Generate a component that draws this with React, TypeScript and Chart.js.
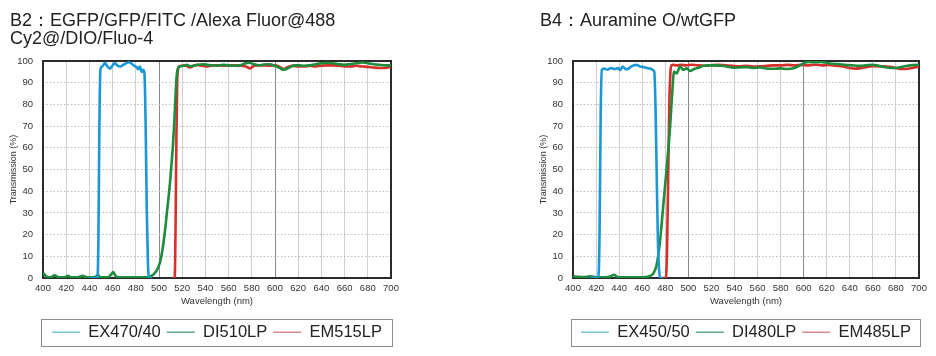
import React, { useEffect, useRef } from 'react';
import { Chart, registerables } from 'chart.js';

Chart.register(...registerables);

// ---------- axis ranges ----------
const X_MIN = 400;
const X_MAX = 700;
const X_STEP = 20;
const Y_MIN = 0;
const Y_MAX = 100;
const Y_STEP = 10;
const X_MAJOR = [500, 600];

// ---------- B2 data ----------
const B2_TITLE = ['B2：EGFP/GFP/FITC /Alexa Fluor@488', 'Cy2@/DIO/Fluo-4'];
const B2_LABELS = ['EX470/40', 'DI510LP', 'EM515LP'];

const B2_EX_WL = [440, 447, 447.8, 448.6, 449.5, 451, 453.4, 455.5, 457.8, 460, 462, 464, 466.4, 469.8, 474, 477, 479, 481, 482, 483.6, 485, 486.5, 487.5, 488.5, 489.5, 490.5, 491.2, 494];
const B2_EX_T = [0, 0, 20, 70, 96, 97.5, 99, 97.5, 96.5, 98, 99, 98, 97.5, 98.4, 99.4, 98.5, 97.7, 97, 96.2, 97.5, 95, 96, 94, 70, 30, 6, 0, 0];

const B2_DI_WL = [400, 402, 404.5, 407, 410, 413, 416, 419, 421.5, 424, 428, 431, 434, 437, 440, 444, 446, 447.5, 449, 452, 456, 458.5, 460.5, 462.5, 465, 470, 478, 486, 490, 493, 496, 499, 501, 503, 505, 507, 509.5, 511, 512, 513, 514, 515.2, 516.6, 518, 521, 524, 527, 530, 534, 538, 542, 546, 550, 555, 560, 565, 570, 574, 578, 582, 586, 590, 595, 600, 604, 607, 610, 613, 617, 621, 625, 630, 635, 640, 645, 650, 655, 660, 665, 670, 675, 680, 685, 690, 695, 700];
const B2_DI_T = [2.5, 1.2, 0.3, 0.4, 1.2, 0.4, 0.3, 0.4, 1, 0.3, 0.3, 0.4, 1, 0.4, 0.3, 0.3, 0.8, 1.5, 0.4, 0.3, 0.3, 1.5, 2.7, 1, 0.3, 0.3, 0.3, 0.3, 0.3, 0.8, 2, 4.5, 7.5, 13, 21, 31, 44, 54, 61, 70, 81, 93, 97, 97.5, 97.8, 98.2, 97.6, 97.8, 98.3, 98.5, 98.2, 98, 97.8, 98.2, 98, 97.8, 98, 98.8, 99.2, 98.5, 98, 98.4, 98.5, 97.8, 96.8, 96, 96.3, 97.2, 98, 98, 97.8, 98, 98.5, 99, 99.2, 99, 98.5, 98.2, 98.6, 99, 99.3, 99, 98.5, 98.2, 98, 98];

const B2_EM_WL = [512, 513.5, 514.3, 515, 515.7, 516.4, 517.5, 520, 523, 526.5, 530, 533, 537, 541, 546, 551, 556, 561, 566, 571, 575, 578.5, 582, 586, 590, 595, 600, 604, 607.5, 611, 615, 620, 625, 630, 635, 640, 645, 650, 655, 660, 665, 670, 675, 680, 685, 690, 695, 700];
const B2_EM_T = [0, 0, 25, 65, 90, 96, 97.5, 97.8, 98, 97, 97.8, 98.2, 97.8, 97.5, 98, 98, 97.8, 98, 98, 97.8, 97.5, 96.6, 97.8, 98, 98, 97.8, 98, 97.3, 96.3, 97.2, 97.8, 97.5, 97.5, 97.8, 97.5, 97.8, 98, 98, 97.8, 97.5, 97.5, 97.8, 97.5, 97.3, 97, 96.8, 96.8, 97.3];

// ---------- B4 data ----------
const B4_TITLE = ['B4：Auramine O/wtGFP'];
const B4_LABELS = ['EX450/50', 'DI480LP', 'EM485LP'];

const B4_EX_WL = [415, 422, 423, 424, 425, 427, 430, 433, 436, 439, 441, 443, 445, 447, 450, 453, 455, 458, 461, 464, 467, 469, 470.5, 471.5, 472.5, 473.5, 474.5, 475.5, 478];
const B4_EX_T = [0, 0, 20, 75, 96, 96.5, 96, 96.8, 96.3, 96.7, 95.8, 97.5, 96.5, 96.2, 97.3, 98, 98.2, 97.5, 97.2, 96.8, 96.5, 96, 95, 80, 50, 20, 5, 0, 0];

const B4_DI_WL = [400, 404, 408, 412, 415, 418, 422, 426, 430, 433, 435.5, 438, 442, 450, 458, 463, 466, 469.6, 472.5, 475.4, 478.3, 481.2, 484.1, 486.1, 487.6, 489.9, 492.8, 495.7, 498.6, 501.5, 505, 509, 513, 518, 523, 528, 533, 539, 544, 550, 556, 562, 568, 574, 580, 586, 592, 597, 601, 605, 610, 615, 620, 625, 630, 636, 642, 648, 654, 660, 665, 670, 675, 680, 685, 690, 695, 700];
const B4_DI_T = [0.8, 0.6, 0.4, 0.5, 0.8, 0.5, 0.3, 0.3, 0.4, 0.8, 1.5, 0.6, 0.3, 0.3, 0.3, 0.4, 0.8, 2.1, 6, 16.7, 33.6, 50.5, 69, 86, 95, 94.3, 97.4, 95.9, 96.6, 95.4, 96.3, 96.9, 97.8, 98, 98, 97.8, 97.5, 96.9, 97, 97.2, 96.8, 97, 96.5, 96.4, 96.6, 96.3, 96.8, 98, 99.3, 99.6, 99.4, 99.6, 99.2, 98.7, 98.6, 98.2, 98, 97.8, 98, 98.3, 97.8, 97.2, 96.8, 96.8, 97.3, 97.8, 98.1, 98.3];

const B4_EM_WL = [477, 480.5, 481.5, 482.5, 483.5, 484.5, 485.5, 487, 490, 494, 498, 503, 508, 514, 520, 526, 532, 538, 544, 550, 556, 562, 568, 574, 580, 586, 592, 598, 604, 610, 616, 622, 628, 634, 640, 645, 650, 655, 660, 665, 670, 675, 680, 685, 690, 695, 700];
const B4_EM_T = [0, 0, 12, 45, 80, 95, 98, 98.2, 98, 98.2, 98, 98.3, 98, 97.8, 98, 98.2, 98, 97.8, 97.6, 97.8, 97.5, 97.6, 97.8, 98, 98, 98.2, 98, 98.2, 98, 98.3, 98, 98.2, 97.8, 97.5, 96.8, 96.5, 96.8, 97.3, 97.6, 97.5, 97.6, 97.3, 96.8, 96.3, 96.4, 96.9, 97.5];

// ---------- styles ----------
const FONT = '"Liberation Sans", Arial, Helvetica, sans-serif';
const LINE_COLORS = ['#1b97d6', '#1d8d3d', '#d7302b'];
const LEGEND_COLORS = ['#7fc4de', '#5ea68b', '#d68c8c'];

const toPoints = (wl: number[], t: number[]) => wl.map((x, i) => ({ x, y: t[i] }));

const framePlugin = {
  id: 'frame',
  beforeDatasetsDraw(chart: any) {
    const { ctx, chartArea: a } = chart;
    ctx.save();
    ctx.strokeStyle = '#2b2b2b';
    ctx.lineWidth = 2;
    ctx.strokeRect(a.left, a.top, a.right - a.left, a.bottom - a.top);
    ctx.restore();
  },
};

const legendBoxPlugin = {
  id: 'legendBox',
  afterDraw(chart: any) {
    const lg = chart.legend;
    if (!lg) return;
    const { ctx, chartArea: a } = chart;
    ctx.save();
    ctx.strokeStyle = '#8e8e8e';
    ctx.lineWidth = 1;
    ctx.strokeRect(Math.round(a.left) - 1.5, Math.round(lg.top) + 1.5, a.right - a.left + 3, 27);
    ctx.restore();
  },
};

type PanelProps = {
  left: number;
  padLeft: number;
  padRight: number;
  labels: string[];
  series: { wl: number[]; t: number[] }[];
};

function Panel({ left, padLeft, padRight, labels, series }: PanelProps) {
  const ref = useRef<HTMLCanvasElement>(null);
  useEffect(() => {
    const chart = new Chart(ref.current as HTMLCanvasElement, {
      type: 'line',
      data: {
        datasets: series.map((s, i) => ({
          label: labels[i],
          data: toPoints(s.wl, s.t),
          borderColor: LINE_COLORS[i],
          backgroundColor: LINE_COLORS[i],
          borderWidth: 2.6,
          pointRadius: 0,
          cubicInterpolationMode: 'monotone' as const,
          fill: false,
        })),
      },
      options: {
        animation: false,
        responsive: false,
        events: [],
        layout: { padding: { left: padLeft, right: padRight, top: 61, bottom: 5.5 } },
        scales: {
          x: {
            type: 'linear',
            min: X_MIN,
            max: X_MAX,
            ticks: {
              stepSize: X_STEP,
              autoSkip: false,
              maxRotation: 0,
              padding: 5,
              color: '#333',
              font: { family: FONT, size: 9.5 },
            },
            grid: {
              drawTicks: false,
              lineWidth: 1,
              color: (c: any) => (X_MAJOR.includes(c.tick?.value) ? '#8a8a8a' : '#cfcfcf'),
            },
            border: { display: false },
            title: {
              display: true,
              text: 'Wavelength (nm)',
              color: '#333',
              font: { family: FONT, size: 9.5 },
              padding: { top: 0, bottom: 11.3 },
            },
            afterFit: (s: any) => {
              s.height = 40;
            },
          },
          y: {
            min: Y_MIN,
            max: Y_MAX,
            ticks: {
              stepSize: Y_STEP,
              padding: 10,
              color: '#333',
              font: { family: FONT, size: 9.5 },
            },
            grid: { drawTicks: false, lineWidth: 1, color: '#bdbdbd' },
            border: { display: false, dash: [1.5, 2] },
            title: {
              display: true,
              text: 'Transmission (%)',
              color: '#333',
              font: { family: FONT, size: 9 },
              padding: { top: 4, bottom: 0 },
            },
            afterFit: (s: any) => {
              s.width = 39;
            },
          },
        },
        plugins: {
          tooltip: { enabled: false },
          title: { display: false },
          legend: {
            display: true,
            position: 'bottom',
            fullSize: false,
            labels: {
              usePointStyle: true,
              pointStyle: 'line',
              pointStyleWidth: 28,
              padding: 6,
              color: '#222',
              font: { family: FONT, size: 16.5 },
              generateLabels: () =>
                labels.map((text, i) => ({
                  text,
                  datasetIndex: i,
                  fillStyle: LEGEND_COLORS[i],
                  strokeStyle: LEGEND_COLORS[i],
                  lineWidth: 1.5,
                  pointStyle: 'line',
                  hidden: false,
                  fontColor: '#222',
                })),
            },
          },
        },
      },
      plugins: [framePlugin, legendBoxPlugin],
    } as any);
    return () => chart.destroy();
  }, []);
  return (
    <canvas
      ref={ref}
      width={468}
      height={356}
      style={{ position: 'absolute', left, top: 0, width: 468, height: 356 }}
    />
  );
}

const titleStyle: React.CSSProperties = {
  position: 'absolute',
  top: 11,
  fontFamily: FONT,
  fontSize: 18,
  lineHeight: '18px',
  color: '#222',
  whiteSpace: 'pre',
};

export default function App() {
  return (
    <div
      style={{
        position: 'fixed',
        left: 0,
        top: 0,
        width: 936,
        height: 356,
        background: '#fff',
        overflow: 'hidden',
      }}
    >
      <Panel
        left={0}
        padLeft={4}
        padRight={77}
        labels={B2_LABELS}
        series={[
          { wl: B2_EX_WL, t: B2_EX_T },
          { wl: B2_DI_WL, t: B2_DI_T },
          { wl: B2_EM_WL, t: B2_EM_T },
        ]}
      />
      <Panel
        left={468}
        padLeft={66}
        padRight={17}
        labels={B4_LABELS}
        series={[
          { wl: B4_EX_WL, t: B4_EX_T },
          { wl: B4_DI_WL, t: B4_DI_T },
          { wl: B4_EM_WL, t: B4_EM_T },
        ]}
      />
      <div style={{ ...titleStyle, left: 10 }}>
        {B2_TITLE[0]}
        <br />
        {B2_TITLE[1]}
      </div>
      <div style={{ ...titleStyle, left: 540 }}>{B4_TITLE[0]}</div>
    </div>
  );
}
